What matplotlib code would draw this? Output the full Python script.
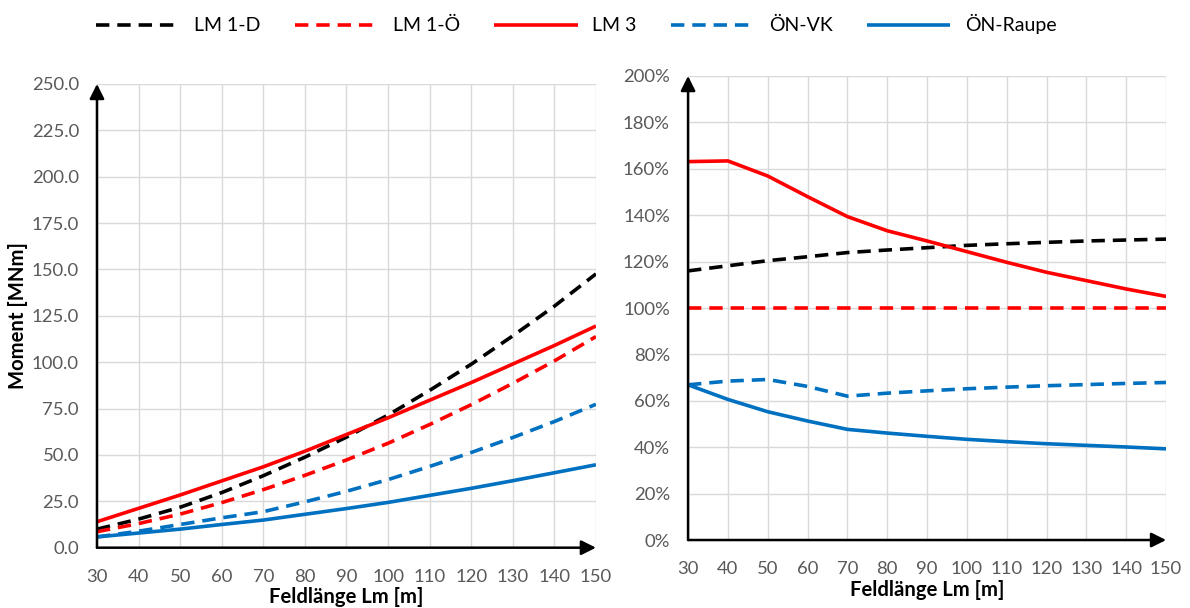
#!/usr/bin/env python3
"""Moment vs Feldlänge (left) and ratio to LM 1-Ö (right)."""
import matplotlib
matplotlib.use("Agg")
import matplotlib.pyplot as plt
from matplotlib.ticker import FuncFormatter

plt.rcParams["font.family"] = ["Lato", "DejaVu Sans"]

# span lengths [m]
feldlaenge = [30, 40, 50, 60, 70, 80, 90, 100, 110, 120, 130, 140, 150]

# left: moment [MNm]
moment_lm1d = [10.0, 15.4, 21.8, 29.7, 38.8, 48.8, 59.6, 71.5, 84.8, 98.9, 114.2, 130.2, 147.6]
moment_lm1oe = [8.6, 13.0, 18.1, 24.3, 31.3, 39.0, 47.3, 56.3, 66.4, 77.1, 88.6, 100.7, 113.8]
moment_lm3 = [14.0, 21.2, 28.4, 36.0, 43.6, 52.0, 61.0, 70.0, 79.5, 89.0, 99.0, 109.0, 119.5]
moment_onvk = [5.8, 8.9, 12.5, 16.1, 19.4, 24.7, 30.4, 36.7, 43.8, 51.3, 59.4, 68.0, 77.3]
moment_onraupe = [5.8, 7.9, 10.0, 12.5, 14.9, 18.0, 21.1, 24.4, 28.2, 32.0, 36.1, 40.4, 44.7]

# right: ratio to LM 1-Ö [%]
ratio_lm1d = [116.0, 118.2, 120.4, 122.1, 123.9, 125.0, 126.0, 127.0, 127.7, 128.3, 128.9, 129.3, 129.7]
ratio_lm1oe = [100, 100, 100, 100, 100, 100, 100, 100, 100, 100, 100, 100, 100]
ratio_lm3 = [163.1, 163.4, 156.9, 148.0, 139.4, 133.3, 128.9, 124.3, 119.7, 115.4, 111.8, 108.2, 105.0]
ratio_onvk = [66.9, 68.5, 69.2, 66.2, 62.0, 63.3, 64.3, 65.2, 65.9, 66.5, 67.0, 67.5, 67.9]
ratio_onraupe = [66.9, 60.6, 55.3, 51.3, 47.7, 46.1, 44.7, 43.4, 42.4, 41.5, 40.8, 40.1, 39.3]

labels = ["LM 1-D", "LM 1-Ö", "LM 3", "ÖN-VK", "ÖN-Raupe"]
colors = ["black", "#FF0000", "#FF0000", "#0070C0", "#0070C0"]
dashed = [True, True, False, True, False]

TICK_COLOR = "#595959"
GRID_COLOR = "#D9D9D9"
FS = 13.3
LABEL_FS = 14.6


def style_axes(ax, ylim, yticks, fmt):
    ax.set_xlim(30, 150)
    ax.set_ylim(*ylim)
    ax.set_xticks(feldlaenge)
    ax.set_yticks(yticks)
    ax.yaxis.set_major_formatter(FuncFormatter(fmt))
    ax.grid(True, color=GRID_COLOR, linewidth=1.0)
    ax.set_axisbelow(True)
    for s in ax.spines.values():
        s.set_visible(False)
    ax.tick_params(length=0, pad=13, labelsize=FS, labelcolor=TICK_COLOR)
    ax.tick_params(axis="x", pad=15)
    ax.set_xlabel("Feldlänge Lm [m]", fontsize=LABEL_FS, fontweight="bold", labelpad=2)
    # axis arrows
    arrow = dict(arrowstyle="-|>", color="black", lw=1.8, mutation_scale=22,
                 shrinkA=0, shrinkB=0)
    ax.annotate("", xy=(0, 1), xytext=(0, 0), xycoords="axes fraction",
                arrowprops=arrow, annotation_clip=False, zorder=5)
    ax.annotate("", xy=(1, 0), xytext=(0, 0), xycoords="axes fraction",
                arrowprops=arrow, annotation_clip=False, zorder=5)


def draw_lines(ax, series):
    handles = []
    for ys, lab, c, d in zip(series, labels, colors, dashed):
        (ln,) = ax.plot(feldlaenge, ys, color=c, lw=2.6, label=lab,
                        solid_capstyle="butt", dash_capstyle="butt", zorder=3)
        if d:
            ln.set_dashes((3.7, 2.2))
        handles.append(ln)
    return handles


fig = plt.figure(figsize=(11.9, 6.08), dpi=100)
ax1 = fig.add_axes([0.0815, 0.0992, 0.4193, 0.7627])
ax2 = fig.add_axes([0.5782, 0.1118, 0.4017, 0.7632])

handles = draw_lines(ax1, [moment_lm1d, moment_lm1oe, moment_lm3, moment_onvk, moment_onraupe])
style_axes(ax1, (0, 250), [0, 25, 50, 75, 100, 125, 150, 175, 200, 225, 250],
           lambda v, p: f"{v:.1f}")
ax1.set_ylabel("Moment [MNm]", fontsize=LABEL_FS, fontweight="bold", labelpad=3)

draw_lines(ax2, [ratio_lm1d, ratio_lm1oe, ratio_lm3, ratio_onvk, ratio_onraupe])
style_axes(ax2, (0, 200), [0, 20, 40, 60, 80, 100, 120, 140, 160, 180, 200],
           lambda v, p: f"{v:.0f}%")

fig.legend(handles=handles, labels=labels, loc="center left",
           bbox_to_anchor=(0.066, 0.96), ncol=5, frameon=False, fontsize=14,
           handlelength=4.3, handletextpad=0.75, columnspacing=1.75)

fig.savefig("out.png", dpi=100)
